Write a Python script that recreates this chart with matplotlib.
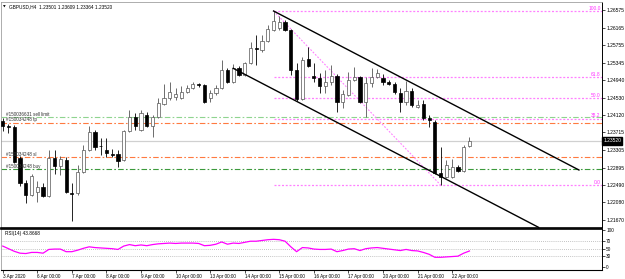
import matplotlib
matplotlib.use('Agg')
import matplotlib.pyplot as plt
import matplotlib.transforms as mtransforms

plt.rcParams['font.family'] = ['Liberation Sans', 'DejaVu Sans']

# ---- H4 candles, 3 Apr 2020 00:00 .. 22 Apr 2020 12:00 ----
opens = [1.23982, 1.23866, 1.23842, 1.23118, 1.22534, 1.22254, 1.22324, 1.22441, 1.22230, 1.23118,
         1.22931, 1.23071, 1.22312, 1.22301, 1.22791, 1.23305, 1.23725, 1.23398, 1.23305, 1.23212,
         1.23212, 1.23071, 1.23749, 1.24076, 1.23772, 1.24123, 1.23866, 1.24076, 1.24380, 1.24520,
         1.24543, 1.24520, 1.24660, 1.24753, 1.24847, 1.24823, 1.24520, 1.24637, 1.24753, 1.25174,
         1.24893, 1.25221, 1.25057, 1.25337, 1.25688, 1.25641, 1.25851, 1.26108, 1.26155, 1.26295,
         1.26108, 1.25174, 1.24496, 1.25431, 1.25034, 1.24987, 1.24800, 1.24893, 1.25034, 1.24426,
         1.24590, 1.24940, 1.25010, 1.24426, 1.24870, 1.25010, 1.24987, 1.24893, 1.24847, 1.24637,
         1.24426, 1.24683, 1.24309, 1.24380, 1.24053, 1.23959, 1.22768, 1.22674, 1.22674, 1.22908,
         1.22814, 1.23398]
highs = [1.24053, 1.23912, 1.23889, 1.23165, 1.22604, 1.22744, 1.22581, 1.22534, 1.23305, 1.23305,
         1.23165, 1.23141, 1.22534, 1.22955, 1.23422, 1.23866, 1.23772, 1.23585, 1.23585, 1.23328,
         1.23305, 1.23772, 1.24239, 1.24169, 1.24239, 1.24193, 1.24123, 1.24520, 1.24847, 1.24893,
         1.24753, 1.24800, 1.24823, 1.24893, 1.24870, 1.24847, 1.24707, 1.24823, 1.25407, 1.25221,
         1.25314, 1.25267, 1.25361, 1.25828, 1.25991, 1.25991, 1.26225, 1.26552, 1.26435, 1.26342,
         1.26132, 1.25337, 1.25477, 1.25711, 1.25337, 1.25104, 1.25174, 1.25291, 1.25080, 1.24707,
         1.25127, 1.25244, 1.25034, 1.25010, 1.25221, 1.25197, 1.25080, 1.24940, 1.24893, 1.24753,
         1.24917, 1.24753, 1.24473, 1.24473, 1.24123, 1.24006, 1.23375, 1.23071, 1.23095, 1.22955,
         1.23422, 1.23609]
lows = [1.23749, 1.23702, 1.23001, 1.22464, 1.22067, 1.22230, 1.22090, 1.22207, 1.22207, 1.22744,
        1.22721, 1.22301, 1.21646, 1.22254, 1.22768, 1.23282, 1.23305, 1.23188, 1.23141, 1.23141,
        1.22908, 1.23048, 1.23725, 1.23772, 1.23749, 1.23842, 1.23609, 1.24053, 1.24356, 1.24473,
        1.24473, 1.24496, 1.24637, 1.24730, 1.24777, 1.24403, 1.24426, 1.24590, 1.24730, 1.24870,
        1.24870, 1.25034, 1.25034, 1.25314, 1.25291, 1.25594, 1.25828, 1.26085, 1.26108, 1.26085,
        1.25057, 1.24450, 1.24473, 1.25244, 1.24893, 1.24637, 1.24637, 1.24823, 1.24193, 1.24286,
        1.24566, 1.24917, 1.24403, 1.24076, 1.24777, 1.24987, 1.24823, 1.24823, 1.24613, 1.24193,
        1.24356, 1.24309, 1.24286, 1.24006, 1.23842, 1.22744, 1.22487, 1.22651, 1.22651, 1.22791,
        1.22791, 1.23364]
closes = [1.23866, 1.23854, 1.23025, 1.22534, 1.22254, 1.22698, 1.22441, 1.22230, 1.23118, 1.22931,
          1.23095, 1.22324, 1.22289, 1.22791, 1.23305, 1.23725, 1.23375, 1.23387, 1.23235, 1.23200,
          1.23048, 1.23749, 1.24076, 1.23866, 1.24169, 1.23866, 1.24076, 1.24403, 1.24520, 1.24660,
          1.24613, 1.24660, 1.24753, 1.24847, 1.24823, 1.24426, 1.24637, 1.24753, 1.25174, 1.24893,
          1.25221, 1.25057, 1.25337, 1.25688, 1.25664, 1.25851, 1.26132, 1.26318, 1.26295, 1.26108,
          1.25174, 1.24496, 1.25407, 1.25267, 1.24987, 1.24800, 1.24893, 1.25034, 1.24426, 1.24613,
          1.24940, 1.25010, 1.24426, 1.24870, 1.25010, 1.25104, 1.24893, 1.24847, 1.24660, 1.24426,
          1.24683, 1.24356, 1.24356, 1.24053, 1.24006, 1.22768, 1.22674, 1.22955, 1.22908, 1.22814,
          1.23375, 1.23520]

rsi_values = [57, 50, 43, 38, 37, 40, 40, 38, 48, 49,
              49, 42, 42, 46, 51, 55, 53, 52, 51, 50,
              48, 57, 61, 58, 60, 58, 61, 63, 64, 65,
              64, 65, 65, 65, 64, 58, 59, 62, 68, 62,
              65, 64, 67, 70, 70, 72, 74, 75, 74, 70,
              55, 42, 53, 52, 49, 48, 48, 49, 42, 45,
              49, 50, 45, 50, 52, 53, 51, 49, 47, 45,
              48, 45, 44, 40, 35, 27, 27, 28, 29, 30,
              38, 43.87]

price_ticks = [1.26575, 1.26165, 1.25755, 1.25345, 1.24940, 1.24530, 1.24120,
               1.23715, 1.23305, 1.22895, 1.22490, 1.22080, 1.21670]
rsi_ticks = [100, 70, 50, 30, 0]
date_labels = ['3 Apr 2020', '6 Apr 00:00', '7 Apr 00:00', '8 Apr 00:00', '9 Apr 00:00',
               '10 Apr 00:00', '13 Apr 00:00', '14 Apr 00:00', '15 Apr 00:00', '16 Apr 00:00',
               '17 Apr 00:00', '20 Apr 00:00', '21 Apr 00:00', '22 Apr 00:00']
date_bars = [0, 6, 12, 18, 24, 30, 36, 42, 48, 54, 60, 66, 72, 78]

# objects on chart
upper_channel = ([47, 100], [1.26552, 1.22838])
lower_channel = ([40, 93], [1.25213, 1.21498])
fib_start_bar, fib_end_bar = 47, 76
fib_high, fib_low = 1.26552, 1.22487
fib_ratios = [0.0, 38.2, 50.0, 61.8, 100.0]
orders = [('#150036631 sell limit', 1.24068, '#8fd48f'),
          ('#150034248 tp', 1.23936, '#ff7a40'),
          ('#150034248 sl', 1.23135, '#ff7a40'),
          ('#150034248 buy', 1.22854, '#3c9a3c')]
bid = 1.23520
title = 'GBPUSD,H4  1.23501 1.23609 1.23364 1.23520'
rsi_title = 'RSI(14) 43.8668'

W, H = 625, 279
fig = plt.figure(figsize=(W / 100, H / 100), dpi=100)
fig.patch.set_facecolor('white')
ax_left = 1 / W
ax_w = 601 / W
ax = fig.add_axes([ax_left, (H - 227.5) / H, ax_w, 225.5 / H])
ax2 = fig.add_axes([ax_left, (H - 270) / H, ax_w, 41.5 / H], sharex=ax)

x = list(range(len(opens)))
ax.set_xlim(-0.3, 104.0)
ax.set_ylim(1.21495, 1.26762)

# order lines and bid
for text, lvl, col in orders:
    ax.axhline(lvl, color=col, lw=0.8, ls=(0, (5, 2, 1.5, 2)), zorder=1)
    ax.text(0.5, lvl + 0.00012, text, fontsize=3.3, color='#333333', va='bottom', ha='left', zorder=6)
ax.axhline(bid, color='#d0d0d0', lw=0.9, zorder=1)

# fibonacci
fib_rng = fib_high - fib_low
fib_col = '#ff80ff'
for r in fib_ratios:
    lvl = fib_low + fib_rng * r / 100.0
    ax.plot([fib_start_bar, 104.0], [lvl, lvl], color=fib_col, lw=0.9,
            dashes=(1.6, 1.4), zorder=2)
    ax.text(103.8, lvl + 0.00005, f'{r:.1f}', fontsize=3.5, color='#ff33ff', ha='right', va='bottom', zorder=6)
ax.plot([fib_start_bar, fib_end_bar], [fib_high, fib_low], color=fib_col, lw=0.8,
        dashes=(1.6, 1.4), zorder=2)

# candles
for i in x:
    o, h, l, c = opens[i], highs[i], lows[i], closes[i]
    bull = c >= o
    col = '#555555' if bull else 'black'
    ax.vlines(i, l, h, color=col, lw=0.6, zorder=3)
    body_h = max(abs(c - o), 0.00003)
    ax.bar(i, body_h, bottom=min(o, c), width=0.55, color='white' if bull else 'black',
           edgecolor=col, lw=0.5, zorder=4)

# channel
ax.plot(*upper_channel, color='black', lw=1.0, zorder=5)
ax.plot(*lower_channel, color='black', lw=1.0, zorder=5)

# axes styling main
ax.yaxis.tick_right()
ax.set_yticks(price_ticks)
ax.set_yticklabels([f'{p:.5f}' for p in price_ticks])
ax.tick_params(axis='y', length=2, width=0.5, labelsize=3.6, pad=1, colors='black')
ax.tick_params(axis='x', bottom=False, labelbottom=False)
for s in ['left', 'top']:
    ax.spines[s].set_color('#a0a0a0'); ax.spines[s].set_linewidth(0.6)
ax.spines['right'].set_color('black'); ax.spines['right'].set_linewidth(0.7)
ax.spines['bottom'].set_color('black'); ax.spines['bottom'].set_linewidth(1.2)

# bid label box
trans = mtransforms.blended_transform_factory(ax.transAxes, ax.transData)
ax.text(1.002, bid, f'{bid:.5f}', transform=trans, fontsize=3.6, color='white', va='center',
        ha='left', bbox=dict(boxstyle='square,pad=0.25', fc='black', ec='black'), zorder=10,
        clip_on=False)

# title
fig.text(3 / W, 1 - 6.5 / H, '\u25bc', fontsize=2.5, color='black', va='center',
         family='DejaVu Sans')
fig.text(9 / W, 1 - 6.5 / H, title, fontsize=3.4, color='black', va='center')

# RSI panel
ax2.set_ylim(-7, 104)
for lv in [70, 50, 30]:
    ax2.axhline(lv, color='#b0b0b0', lw=0.6, ls=(0, (1, 1.5)), zorder=1)
ax2.plot(x, rsi_values, color='#ff00ff', lw=0.9, zorder=3)
ax2.yaxis.tick_right()
ax2.set_yticks(rsi_ticks)
ax2.set_yticklabels([str(t) for t in rsi_ticks])
ax2.tick_params(axis='y', length=2, width=0.5, labelsize=3.4, pad=1)
ax2.set_xticks(date_bars)
ax2.set_xticklabels(date_labels)
ax2.tick_params(axis='x', length=2, width=0.5, labelsize=3.3, pad=1)
for lab in ax2.get_xticklabels():
    lab.set_ha('left')
ax2.text(0.4, 98, rsi_title, fontsize=3.4, color='black', va='top', ha='left')
ax2.spines['top'].set_color('black'); ax2.spines['top'].set_linewidth(1.2)
ax2.spines['bottom'].set_color('black'); ax2.spines['bottom'].set_linewidth(0.8)
ax2.spines['right'].set_color('black'); ax2.spines['right'].set_linewidth(0.7)
ax2.spines['left'].set_color('#a0a0a0'); ax2.spines['left'].set_linewidth(0.6)

fig.savefig('out.png', dpi=100)
